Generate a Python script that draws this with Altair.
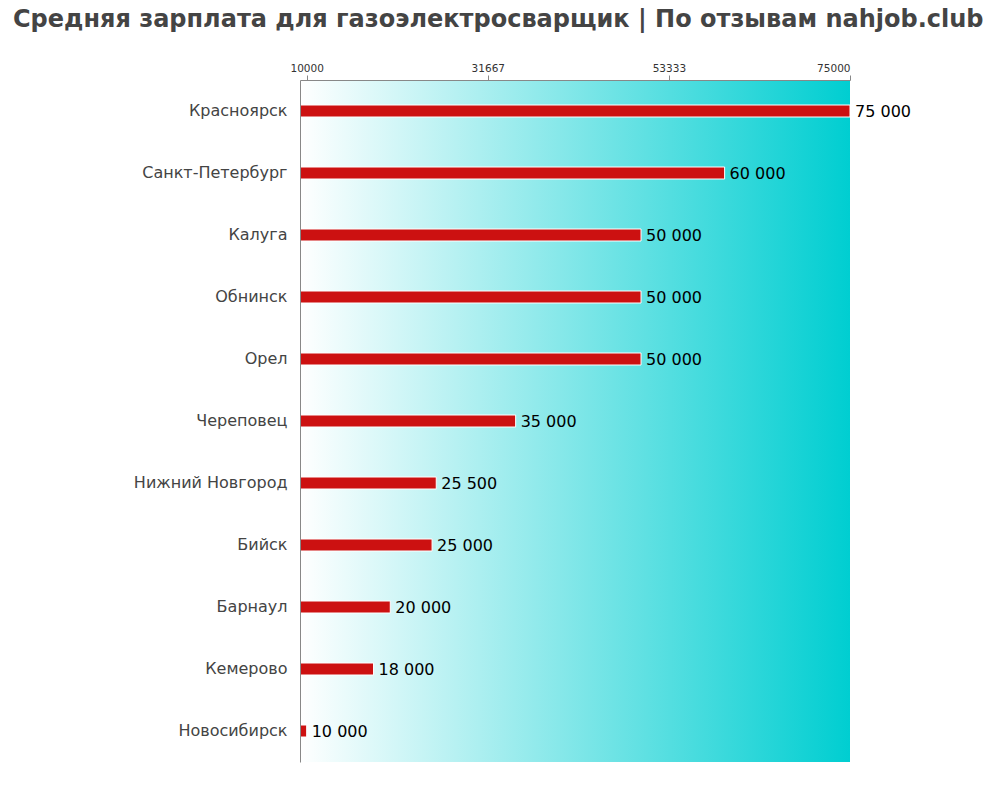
import altair as alt
import pandas as pd

cities = ["Красноярск", "Санкт-Петербург", "Калуга", "Обнинск", "Орел", "Череповец",
          "Нижний Новгород", "Бийск", "Барнаул", "Кемерово", "Новосибирск"]
salaries = [75000, 60000, 50000, 50000, 50000, 35000, 25500, 25000, 20000, 18000, 10000]
tick_values = [10000, 31667, 53333, 75000]
title_text = "Средняя зарплата для газоэлектросварщик | По отзывам nahjob.club"

df = pd.DataFrame({
    "city": cities,
    "salary": salaries,
    "label": [f"{v:,}".replace(",", " ") for v in salaries],
})

W, H = 550, 682
xscale = alt.Scale(domain=[9200, 75000], nice=False, zero=False)
ysort = cities

bg = alt.Chart(pd.DataFrame({"a": [0]})).mark_rect(
    fill=alt.LinearGradient(
        gradient="linear",
        stops=[alt.GradientStop(color="#ffffff", offset=0),
               alt.GradientStop(color="#00ced1", offset=1)],
        x1=0, x2=1, y1=0, y2=0,
    )
).encode(x=alt.value(0), x2=alt.value(W), y=alt.value(0), y2=alt.value(H))

base = alt.Chart(df)

bars = base.mark_bar(color="#cc1111", stroke="white", strokeWidth=1, height=12,
                     clip=True).encode(
    x=alt.X("salary:Q", scale=xscale,
            axis=alt.Axis(orient="top", values=tick_values, format="d", title=None,
                          grid=False, labelFontSize=10.5, labelColor="#333",
                          labelFont="DejaVu Sans", domainColor="#888", tickColor="#888",
                          tickSize=5, labelPadding=2, zindex=1)),
    y=alt.Y("city:N", sort=ysort, title=None,
            axis=alt.Axis(ticks=False, domainColor="#888", labelFontSize=16,
                          labelColor="#444", labelFont="DejaVu Sans", labelPadding=13,
                          zindex=1)),
)

text = base.mark_text(align="left", baseline="middle", dx=5, dy=1, fontSize=16,
                      font="DejaVu Sans", color="black").encode(
    x=alt.X("salary:Q", scale=xscale),
    y=alt.Y("city:N", sort=ysort),
    text="label:N",
)

chart = alt.layer(bg, bars, text).properties(
    width=W, height=H,
    title=alt.TitleParams(title_text, fontSize=24, font="DejaVu Sans", fontWeight="bold",
                          color="#444", anchor="start", frame="group", dx=-287, dy=-27),
    autosize=alt.AutoSizeParams(type="none"),
    padding={"left": 300, "top": 80, "right": 150, "bottom": 38},
).configure_view(stroke=None)

chart.save("out.html", embed_options={"renderer": "svg", "actions": False})
